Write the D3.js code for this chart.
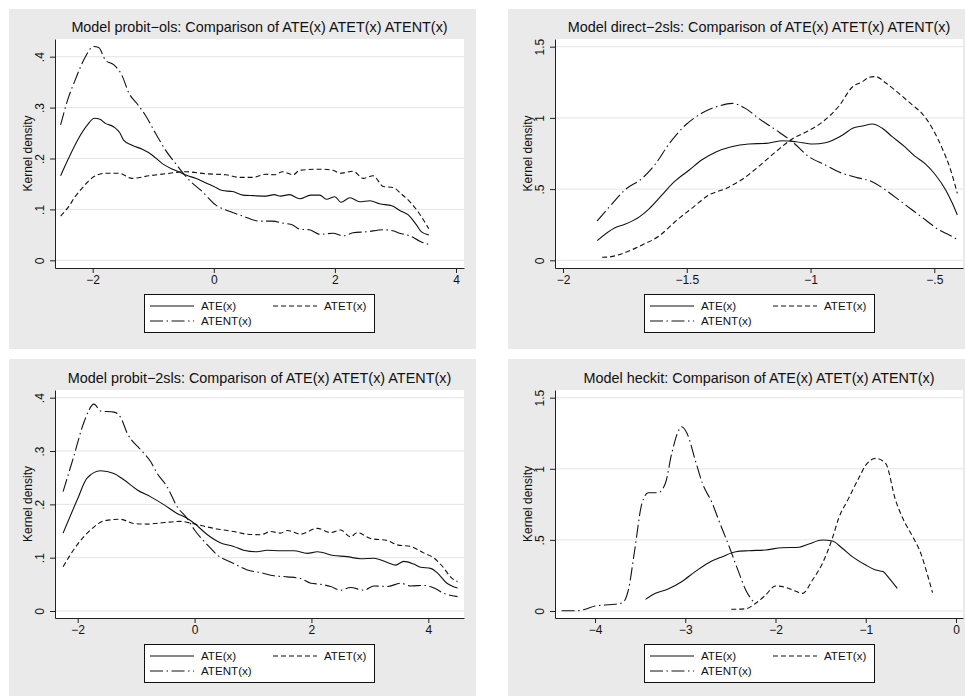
<!DOCTYPE html>
<html lang="en">
<head>
  <meta charset="UTF-8">
  <title>Kernel densities of ATE(x), ATET(x), ATENT(x)</title>
  <style>
    body { margin: 0; background: #fff; }
    svg { display: block; font-family: "Liberation Sans", Arial, sans-serif; }
  </style>
</head>
<body>
  <div id="chart"></div>

  <script src="https://d3js.org/d3.v7.min.js"></script>

  <script>
    // ---- data: [x, density] ----
    var olsATE = [[-2.53,0.166],[-2.4,0.2],[-2.25,0.236],[-2.1,0.264],[-1.97,0.279],[-1.88,0.277],[-1.79,0.269],[-1.65,0.262],[-1.55,0.25],[-1.49,0.236],[-1.35,0.226],[-1.18,0.218],[-1.02,0.207],[-0.85,0.19],[-0.7,0.18],[-0.58,0.174],[-0.45,0.167],[-0.3,0.161],[-0.15,0.153],[0,0.145],[0.14,0.137],[0.31,0.135],[0.48,0.128],[0.65,0.127],[0.86,0.126],[1.0,0.129],[1.1,0.126],[1.25,0.129],[1.42,0.121],[1.6,0.128],[1.75,0.128],[1.86,0.12],[2.0,0.125],[2.1,0.114],[2.25,0.123],[2.41,0.115],[2.58,0.117],[2.74,0.111],[2.94,0.107],[3.07,0.098],[3.24,0.086],[3.35,0.069],[3.43,0.056],[3.55,0.05]];
    var olsATET = [[-2.53,0.087],[-2.4,0.105],[-2.29,0.125],[-2.15,0.145],[-2.01,0.162],[-1.79,0.171],[-1.57,0.171],[-1.35,0.161],[-1.07,0.166],[-0.8,0.17],[-0.46,0.174],[-0.13,0.17],[0.2,0.168],[0.42,0.163],[0.64,0.163],[0.86,0.169],[1.0,0.168],[1.14,0.174],[1.31,0.168],[1.42,0.177],[1.75,0.179],[1.97,0.177],[2.08,0.171],[2.3,0.175],[2.47,0.161],[2.63,0.166],[2.8,0.145],[2.96,0.143],[3.1,0.13],[3.24,0.115],[3.41,0.089],[3.55,0.062]];
    var olsATENT = [[-2.53,0.266],[-2.4,0.32],[-2.29,0.354],[-2.12,0.4],[-1.99,0.42],[-1.9,0.418],[-1.79,0.393],[-1.65,0.384],[-1.52,0.364],[-1.4,0.328],[-1.27,0.308],[-1.13,0.285],[-0.96,0.249],[-0.8,0.217],[-0.63,0.19],[-0.41,0.158],[-0.19,0.135],[0.03,0.109],[0.31,0.094],[0.48,0.087],[0.75,0.077],[0.97,0.077],[1.14,0.073],[1.31,0.069],[1.42,0.061],[1.58,0.06],[1.75,0.051],[1.97,0.053],[2.13,0.048],[2.3,0.054],[2.52,0.056],[2.8,0.06],[2.96,0.058],[3.07,0.053],[3.24,0.048],[3.41,0.037],[3.55,0.031]];

    var dirATE = [[-1.862,0.138],[-1.79,0.229],[-1.75,0.253],[-1.69,0.307],[-1.65,0.365],[-1.6,0.459],[-1.55,0.552],[-1.49,0.634],[-1.44,0.704],[-1.38,0.763],[-1.32,0.798],[-1.25,0.817],[-1.18,0.821],[-1.11,0.84],[-1.06,0.833],[-0.99,0.817],[-0.94,0.826],[-0.87,0.88],[-0.83,0.927],[-0.79,0.943],[-0.75,0.957],[-0.71,0.927],[-0.67,0.868],[-0.62,0.798],[-0.58,0.733],[-0.535,0.676],[-0.495,0.599],[-0.454,0.494],[-0.427,0.4],[-0.407,0.318]];
    var dirATET = [[-1.842,0.021],[-1.815,0.023],[-1.75,0.054],[-1.68,0.108],[-1.61,0.173],[-1.55,0.267],[-1.48,0.365],[-1.41,0.459],[-1.34,0.506],[-1.28,0.564],[-1.21,0.658],[-1.14,0.763],[-1.07,0.857],[-1.01,0.908],[-0.95,0.974],[-0.885,1.084],[-0.83,1.219],[-0.79,1.254],[-0.764,1.285],[-0.737,1.29],[-0.697,1.247],[-0.643,1.172],[-0.589,1.091],[-0.55,1.032],[-0.508,0.927],[-0.468,0.786],[-0.434,0.634],[-0.407,0.47]];
    var dirATENT = [[-1.862,0.276],[-1.8,0.4],[-1.75,0.494],[-1.68,0.576],[-1.63,0.669],[-1.57,0.821],[-1.505,0.95],[-1.44,1.032],[-1.37,1.084],[-1.317,1.102],[-1.263,1.067],[-1.21,0.997],[-1.14,0.915],[-1.074,0.833],[-1.007,0.728],[-0.94,0.669],[-0.872,0.611],[-0.818,0.583],[-0.751,0.552],[-0.697,0.494],[-0.643,0.424],[-0.589,0.353],[-0.535,0.283],[-0.481,0.213],[-0.44,0.178],[-0.407,0.147]];

    var p2sATE = [[-2.25,0.146],[-2.01,0.208],[-1.84,0.249],[-1.61,0.263],[-1.38,0.258],[-1.21,0.246],[-0.98,0.227],[-0.75,0.214],[-0.52,0.199],[-0.3,0.183],[-0.13,0.174],[0,0.164],[0.22,0.143],[0.44,0.128],[0.67,0.121],[0.84,0.114],[1.07,0.111],[1.24,0.114],[1.47,0.113],[1.7,0.113],[1.93,0.108],[2.1,0.111],[2.38,0.104],[2.61,0.102],[2.84,0.098],[3.07,0.099],[3.3,0.091],[3.44,0.086],[3.58,0.093],[3.75,0.088],[3.87,0.082],[4.04,0.08],[4.15,0.072],[4.32,0.052],[4.5,0.043]];
    var p2sATET = [[-2.25,0.083],[-2.01,0.124],[-1.78,0.152],[-1.55,0.169],[-1.27,0.172],[-1.04,0.164],[-0.81,0.163],[-0.52,0.166],[-0.24,0.168],[0,0.163],[0.33,0.155],[0.67,0.149],[0.9,0.144],[1.13,0.143],[1.3,0.149],[1.47,0.146],[1.59,0.151],[1.81,0.144],[2.1,0.155],[2.33,0.147],[2.5,0.152],[2.67,0.139],[2.78,0.147],[3.01,0.136],[3.3,0.132],[3.47,0.124],[3.7,0.121],[3.92,0.109],[4.1,0.099],[4.27,0.08],[4.38,0.064],[4.5,0.055]];
    var p2sATENT = [[-2.25,0.224],[-2.07,0.289],[-1.89,0.355],[-1.72,0.388],[-1.61,0.375],[-1.38,0.373],[-1.27,0.364],[-1.15,0.333],[-0.92,0.302],[-0.75,0.28],[-0.64,0.258],[-0.47,0.233],[-0.3,0.196],[-0.13,0.174],[0,0.152],[0.22,0.124],[0.39,0.105],[0.67,0.089],[0.9,0.077],[1.13,0.072],[1.36,0.066],[1.59,0.064],[1.81,0.061],[1.99,0.052],[2.16,0.05],[2.33,0.046],[2.5,0.039],[2.67,0.044],[2.9,0.039],[3.07,0.047],[3.3,0.046],[3.53,0.052],[3.7,0.047],[3.92,0.048],[4.1,0.043],[4.27,0.033],[4.5,0.027]];

    var heckATE = [[-3.44,0.082],[-3.33,0.124],[-3.19,0.155],[-3.04,0.206],[-2.89,0.277],[-2.74,0.34],[-2.59,0.382],[-2.44,0.417],[-2.3,0.424],[-2.11,0.429],[-1.93,0.445],[-1.74,0.448],[-1.63,0.471],[-1.48,0.499],[-1.37,0.492],[-1.26,0.441],[-1.15,0.382],[-1.0,0.323],[-0.89,0.288],[-0.81,0.277],[-0.74,0.23],[-0.65,0.159]];
    var heckATET = [[-2.49,0.012],[-2.33,0.016],[-2.22,0.054],[-2.11,0.112],[-2.0,0.176],[-1.89,0.166],[-1.81,0.148],[-1.7,0.124],[-1.59,0.218],[-1.48,0.335],[-1.37,0.511],[-1.3,0.652],[-1.19,0.792],[-1.07,0.944],[-1.0,1.026],[-0.89,1.073],[-0.78,1.038],[-0.67,0.78],[-0.59,0.652],[-0.48,0.523],[-0.39,0.405],[-0.31,0.241],[-0.26,0.129]];
    var heckATENT = [[-4.37,0.002],[-4.19,0.002],[-4.11,0.012],[-4.0,0.035],[-3.89,0.042],[-3.78,0.047],[-3.69,0.061],[-3.63,0.148],[-3.56,0.429],[-3.48,0.757],[-3.41,0.832],[-3.3,0.832],[-3.22,0.898],[-3.15,1.108],[-3.07,1.273],[-3.04,1.296],[-2.98,1.249],[-2.89,1.062],[-2.81,0.898],[-2.7,0.757],[-2.63,0.64],[-2.52,0.464],[-2.41,0.277],[-2.33,0.148],[-2.24,0.061]];

    var seriesNames = ["ATE(x)", "ATET(x)", "ATENT(x)"];
    var titles = [
      "Model probit\u2212ols: Comparison of ATE(x) ATET(x) ATENT(x)",
      "Model direct\u22122sls: Comparison of ATE(x) ATET(x) ATENT(x)",
      "Model probit\u22122sls: Comparison of ATE(x) ATET(x) ATENT(x)",
      "Model heckit: Comparison of ATE(x) ATET(x) ATENT(x)"
    ];
    var xTicksA = [-2, 0, 2, 4];
    var xTicksB = [-2, -1.5, -1, -0.5];
    var xTicksC = [-4, -3, -2, -1, 0];
    var yTicksSmall = [0, 0.1, 0.2, 0.3, 0.4];
    var yTicksLarge = [0, 0.5, 1, 1.5];

    // ---- layout (pixels) ----
    // bg: grey panel box, plot: left/top/right/bottom, xAnchor/yAnchor: two ticks and their pixel positions
    var panels = [
      {title: titles[0], bg: [9, 9, 476, 349], plot: [55, 39, 464, 268],
       xTicks: xTicksA, xAnchor: [[-2, 92.7], [4, 456]], yTicks: yTicksSmall, yAnchor: [[0, 260.3], [0.4, 56.7]],
       legend: [144, 294], series: [olsATE, olsATET, olsATENT]},
      {title: titles[1], bg: [508, 9, 965, 349], plot: [555, 39, 963, 268],
       xTicks: xTicksB, xAnchor: [[-2, 563], [-0.5, 934.3]], yTicks: yTicksLarge, yAnchor: [[0, 260.3], [1.5, 46.7]],
       legend: [644, 294], series: [dirATE, dirATET, dirATENT]},
      {title: titles[2], bg: [9, 359, 476, 696], plot: [55, 390, 464, 618],
       xTicks: xTicksA, xAnchor: [[-2, 77.7], [4, 428.3]], yTicks: yTicksSmall, yAnchor: [[0, 611], [0.4, 397.7]],
       legend: [144, 644], series: [p2sATE, p2sATET, p2sATENT]},
      {title: titles[3], bg: [508, 359, 965, 696], plot: [555, 390, 963, 618],
       xTicks: xTicksC, xAnchor: [[-4, 595], [0, 956]], yTicks: yTicksLarge, yAnchor: [[0, 611], [1.5, 397.7]],
       legend: [644, 644], series: [heckATE, heckATET, heckATENT]}
    ];

    var dashes = [null, "5,3", "13,3.5,1.5,3.5"];
    var font = "'Liberation Sans', Arial, sans-serif";

    // Stata style numbers: .4, 1.5, −2
    function stataFmt(d) {
      if (d === 0) return "0";
      var s = String(Math.abs(d)).replace(/^0\./, ".");
      return (d < 0 ? "\u2212" : "") + s;
    }

    var svg = d3.select("#chart")
      .append("svg")
      .attr("width", 965)
      .attr("height", 696);

    svg.append("rect").attr("width", 965).attr("height", 696).attr("fill", "#fff");

    panels.forEach(function(p) {
      var g = svg.append("g");
      var px0 = p.plot[0], py0 = p.plot[1], px1 = p.plot[2], py1 = p.plot[3];

      // grey graph region and white plot region
      g.append("rect")
        .attr("x", p.bg[0]).attr("y", p.bg[1])
        .attr("width", p.bg[2] - p.bg[0]).attr("height", p.bg[3] - p.bg[1])
        .attr("fill", "#eaeaea");
      g.append("rect")
        .attr("x", px0).attr("y", py0)
        .attr("width", px1 - px0).attr("height", py1 - py0)
        .attr("fill", "#fff");

      // scales: anchored on two ticks, then stretched to the plot edges
      var x = d3.scaleLinear()
        .domain([p.xAnchor[0][0], p.xAnchor[1][0]])
        .range([p.xAnchor[0][1], p.xAnchor[1][1]]);
      x.domain([x.invert(px0), x.invert(px1)]).range([px0, px1]);

      var y = d3.scaleLinear()
        .domain([p.yAnchor[0][0], p.yAnchor[1][0]])
        .range([p.yAnchor[0][1], p.yAnchor[1][1]]);
      y.domain([y.invert(py1), y.invert(py0)]).range([py1, py0]);

      // gridlines
      g.append("g")
        .selectAll("line")
        .data(p.yTicks)
        .enter()
        .append("line")
        .attr("x1", px0).attr("x2", px1)
        .attr("y1", function(d) { return y(d); })
        .attr("y2", function(d) { return y(d); })
        .attr("stroke", "#e4e4e4")
        .attr("stroke-width", 1);

      // title
      g.append("text")
        .attr("x", (px0 + px1) / 2)
        .attr("y", py0 - 7)
        .attr("text-anchor", "middle")
        .style("font-size", "14.4px")
        .attr("fill", "#111")
        .text(p.title);

      // curves
      var line = d3.line()
        .x(function(d) { return x(d[0]); })
        .y(function(d) { return y(d[1]); })
        .curve(d3.curveMonotoneX);

      p.series.forEach(function(s, i) {
        g.append("path")
          .datum(s)
          .attr("d", line)
          .attr("fill", "none")
          .attr("stroke", "#111")
          .attr("stroke-width", 1.1)
          .attr("stroke-dasharray", dashes[i]);
      });

      // x axis
      var xAxis = g.append("g")
        .attr("transform", "translate(0," + py1 + ")")
        .call(d3.axisBottom(x).tickValues(p.xTicks).tickFormat(stataFmt).tickSize(5).tickSizeOuter(0).tickPadding(2));
      xAxis.select(".domain").attr("stroke", "#222");
      xAxis.selectAll(".tick line").attr("stroke", "#222");
      xAxis.selectAll("text")
        .style("font-size", "12px")
        .style("font-family", font)
        .attr("fill", "#111");

      // y axis with rotated labels
      var yAxis = g.append("g")
        .attr("transform", "translate(" + px0 + ",0)")
        .call(d3.axisLeft(y).tickValues(p.yTicks).tickFormat(stataFmt).tickSize(5).tickSizeOuter(0));
      yAxis.select(".domain").attr("stroke", "#222");
      yAxis.selectAll(".tick line").attr("stroke", "#222");
      yAxis.selectAll("text")
        .attr("x", 0)
        .attr("y", -11)
        .attr("dy", null)
        .attr("transform", "rotate(-90)")
        .attr("text-anchor", "middle")
        .style("font-size", "12px")
        .style("font-family", font)
        .attr("fill", "#111");

      // y axis title
      g.append("text")
        .attr("transform", "translate(" + (px0 - 23) + "," + ((py0 + py1) / 2) + ") rotate(-90)")
        .attr("text-anchor", "middle")
        .style("font-size", "12px")
        .attr("fill", "#111")
        .text("Kernel density");

      // legend
      var lx = p.legend[0], ly = p.legend[1];
      var lg = g.append("g").attr("transform", "translate(" + lx + "," + ly + ")");
      lg.append("rect")
        .attr("x", 0.5).attr("y", 0.5)
        .attr("width", 230).attr("height", 38)
        .attr("fill", "#fff")
        .attr("stroke", "#111")
        .attr("stroke-width", 1);

      var slots = [[6, 12], [129, 12], [6, 27]];
      seriesNames.forEach(function(name, i) {
        var sx = slots[i][0], sy = slots[i][1];
        lg.append("line")
          .attr("x1", sx).attr("x2", sx + 44)
          .attr("y1", sy).attr("y2", sy)
          .attr("stroke", "#111")
          .attr("stroke-width", 1.1)
          .attr("stroke-dasharray", dashes[i]);
        lg.append("text")
          .attr("x", sx + 51)
          .attr("y", sy + 4)
          .style("font-size", "11.6px")
          .attr("fill", "#111")
          .text(name);
      });
    });
  </script>
</body>
</html>
